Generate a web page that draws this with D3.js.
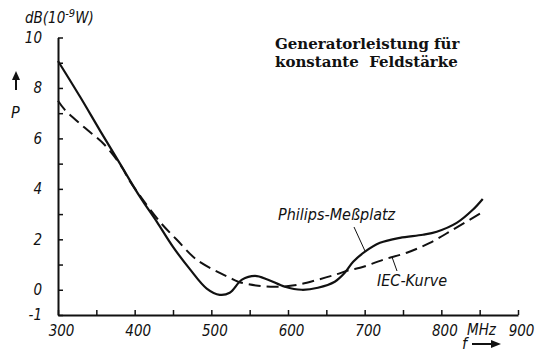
<!DOCTYPE html>
<html>
<head>
<meta charset="utf-8">
<script src="https://cdn.jsdelivr.net/npm/d3@7"></script>
<style>
  html, body { margin: 0; padding: 0; background: #fff; }
  svg { display: block; }
  .lbl { font-family: "DejaVu Sans Condensed", "DejaVu Sans", sans-serif; font-style: italic; fill: #111; }
  .title { font-family: "DejaVu Serif", serif; font-weight: bold; font-size: 15px; fill: #111; }
</style>
</head>
<body>
<svg id="chart" width="540" height="352"></svg>
<script>
// Frequency (MHz) and generator power (dB re 1e-9 W)
const philipsFreq = [300, 329, 355, 381, 407, 429, 450, 472, 494, 511, 524, 540, 557, 574, 596, 618, 639, 661, 674, 685, 700, 720, 746, 776, 794, 820, 841, 854];
const philipsPower = [9.07, 7.64, 6.30, 4.99, 3.68, 2.69, 1.70, 0.82, 0.05, -0.2, -0.12, 0.40, 0.55, 0.40, 0.12, 0.0, 0.08, 0.32, 0.67, 1.11, 1.50, 1.86, 2.06, 2.18, 2.30, 2.65, 3.17, 3.60];

const iecFreq = [300, 309, 335, 361, 384, 391, 407, 433, 455, 481, 511, 524, 535, 561, 587, 613, 639, 661, 681, 694, 724, 755, 785, 815, 852];
const iecPower = [7.49, 7.13, 6.42, 5.74, 4.83, 4.44, 3.72, 2.69, 1.98, 1.19, 0.67, 0.48, 0.32, 0.16, 0.12, 0.20, 0.40, 0.59, 0.79, 0.87, 1.19, 1.47, 1.86, 2.38, 3.05];

const xTicks = [300, 350, 400, 450, 500, 550, 600, 650, 700, 750, 800, 850, 900];
const xTickLabels = [300, 400, 500, 600, 700, 800, 900];
const yTicks = [-1, 0, 1, 2, 3, 4, 5, 6, 7, 8, 9, 10];
const yTickLabels = [-1, 0, 2, 4, 6, 8, 10];

const svg = d3.select("#chart");

const x = d3.scaleLinear().domain([300, 900]).range([58, 518]);
const y = d3.scaleLinear().domain([-1, 10]).range([315, 37.5]);

// Axes: ticks point into the plot, labels outside
const xAxis = d3.axisBottom(x)
  .tickValues(xTicks)
  .tickSizeInner(-5).tickSizeOuter(0).tickPadding(10)
  .tickFormat(d => xTickLabels.includes(d) ? String(d) : "");
const yAxis = d3.axisLeft(y)
  .tickValues(yTicks)
  .tickSizeInner(-5).tickSizeOuter(0).tickPadding(16)
  .tickFormat(d => yTickLabels.includes(d) ? String(d) : "");

const gx = svg.append("g").attr("transform", `translate(0,${y(-1)})`).call(xAxis);
const gy = svg.append("g").attr("transform", `translate(${x(300)},0)`).call(yAxis);

[gx, gy].forEach(g => {
  g.select(".domain").attr("stroke", "#111").attr("stroke-width", 2);
  g.selectAll(".tick line").attr("stroke", "#111").attr("stroke-width", 1.5);
  g.selectAll(".tick text")
    .attr("class", "lbl")
    .style("font-size", "15px")
    .attr("fill", "#111");
});
gx.selectAll(".tick text").attr("dx", "3");

// Curves
const line = (fs, ps) => d3.line()
  .x((d, i) => x(fs[i]))
  .y((d, i) => y(ps[i]))
  .curve(d3.curveCatmullRom.alpha(0.5))(fs);

svg.append("path")
  .attr("d", line(iecFreq, iecPower))
  .attr("fill", "none").attr("stroke", "#111")
  .attr("stroke-width", 2).attr("stroke-dasharray", "12,6");

svg.append("path")
  .attr("d", line(philipsFreq, philipsPower))
  .attr("fill", "none").attr("stroke", "#111")
  .attr("stroke-width", 2.2);

// Curve labels with leader lines
svg.append("text").attr("class", "lbl").style("font-size", "16px")
  .attr("x", 278).attr("y", 220).text("Philips-Meßplatz");
svg.append("line").attr("x1", 354).attr("y1", 227).attr("x2", 365).attr("y2", 251)
  .attr("stroke", "#111").attr("stroke-width", 1);

svg.append("text").attr("class", "lbl").style("font-size", "16px")
  .attr("x", 377).attr("y", 286).text("IEC-Kurve");
svg.append("line").attr("x1", 392).attr("y1", 257).attr("x2", 397).attr("y2", 271)
  .attr("stroke", "#111").attr("stroke-width", 1);

// Title
svg.append("text").attr("class", "title").attr("x", 275).attr("y", 49).text("Generatorleistung für");
svg.append("text").attr("class", "title").attr("x", 275).attr("y", 67)
  .attr("xml:space", "preserve").style("white-space", "pre").text("konstante  Feldstärke");

// Y unit and quantity
const unit = svg.append("text").attr("class", "lbl").style("font-size", "15px")
  .attr("x", 25).attr("y", 23);
unit.append("tspan").text("dB(10");
unit.append("tspan").attr("dy", -6).style("font-size", "11px").text("-9");
unit.append("tspan").attr("dy", 6).text("W)");

svg.append("line").attr("x1", 16).attr("y1", 90).attr("x2", 16).attr("y2", 78)
  .attr("stroke", "#111").attr("stroke-width", 2);
svg.append("path").attr("d", "M12,80 L16,71 L20,80 Z").attr("fill", "#111");
svg.append("text").attr("class", "lbl").style("font-size", "16px")
  .attr("x", 11).attr("y", 118).text("P");

// X unit and quantity
svg.append("text").attr("class", "lbl").style("font-size", "15px")
  .attr("x", 467).attr("y", 335).text("MHz");
svg.append("text").attr("class", "lbl").style("font-size", "16px")
  .attr("x", 462).attr("y", 349).text("f");
svg.append("line").attr("x1", 472).attr("y1", 344).attr("x2", 493).attr("y2", 344)
  .attr("stroke", "#111").attr("stroke-width", 2);
svg.append("path").attr("d", "M491,340 L501,344 L491,348 Z").attr("fill", "#111");
</script>
</body>
</html>
